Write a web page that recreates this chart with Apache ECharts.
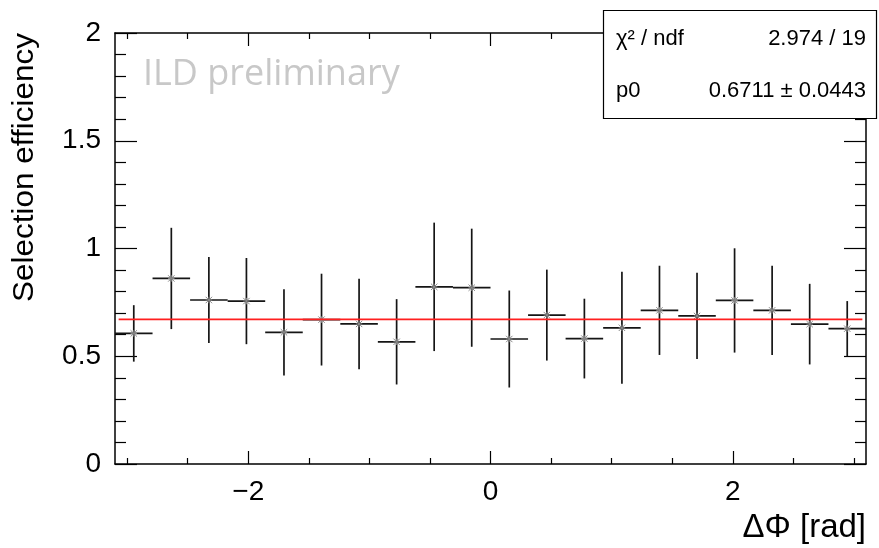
<!DOCTYPE html>
<html>
<head>
<meta charset="utf-8">
<script src="https://cdn.jsdelivr.net/npm/echarts@6/dist/echarts.min.js"></script>
<style>
  html, body { margin: 0; padding: 0; background: #fff; }
  #chart { width: 879px; height: 548px; }
</style>
</head>
<body>
<div id="chart"></div>
<script>
// Efficiency per ΔΦ bin (20 bins, width 0.31 rad, range -3.1 .. 3.1)
const binCenters = [-2.945, -2.635, -2.325, -2.015, -1.705, -1.395, -1.085, -0.775, -0.465, -0.155,
                    0.155, 0.465, 0.775, 1.085, 1.395, 1.705, 2.015, 2.325, 2.635, 2.945];
const binWidth = 0.31;
const efficiency = [0.606, 0.861, 0.761, 0.756, 0.611, 0.670, 0.650, 0.567, 0.822, 0.818,
                    0.580, 0.691, 0.582, 0.632, 0.713, 0.687, 0.759, 0.713, 0.649, 0.628];
const efficiencyErr = [0.131, 0.235, 0.200, 0.200, 0.200, 0.213, 0.210, 0.198, 0.298, 0.274,
                       0.225, 0.211, 0.185, 0.260, 0.207, 0.200, 0.242, 0.207, 0.187, 0.128];

// Constant fit p0
const fitP0 = 0.6711;
const fitRange = [-3.07, 3.07];

// Axis ticks
const xRange = [-3.1, 3.1];
const xMajorTicks = [-2, 0, 2];
const xMinorTicks = [-3, -2.5, -1.5, -1, -0.5, 0.5, 1, 1.5, 2.5, 3];
const yRange = [0, 2];
const yStep = 0.5;

const statsRows = [
  ['\u03C7\u00B2 / ndf', '2.974 / 19'],
  ['p0', '0.6711 \u00B1 0.0443']
];

const FONT = '"Liberation Sans", Arial, Helvetica, sans-serif';
const chart = echarts.init(document.getElementById('chart'));

const fmtMinus = v => (v < 0 ? '\u2212' + Math.abs(v) : String(v));

function xAxisDef(position, ticks, len, showLabels, showLine) {
  return {
    type: 'value', position: position, min: xRange[0], max: xRange[1],
    axisLine: { show: showLine, onZero: false, lineStyle: { color: '#000', width: 1.5 } },
    axisTick: { show: true, inside: true, length: len, customValues: ticks,
                lineStyle: { color: '#000', width: 1.2 } },
    axisLabel: { show: showLabels, customValues: ticks, formatter: fmtMinus, margin: 14,
                 color: '#000', fontSize: 28, fontFamily: FONT },
    splitLine: { show: false }
  };
}

function yAxisDef(position, showLabels) {
  return {
    type: 'value', position: position, min: yRange[0], max: yRange[1], interval: yStep,
    axisLine: { show: true, onZero: false, lineStyle: { color: '#000', width: 1.5 } },
    axisTick: { show: true, inside: true, length: 22, lineStyle: { color: '#000', width: 1.2 } },
    minorTick: { show: true, splitNumber: 5, length: 11, lineStyle: { color: '#000', width: 1.2 } },
    axisLabel: { show: showLabels, margin: 14, padding: [6, 0, 0, 0],
                 color: '#000', fontSize: 28, fontFamily: FONT },
    splitLine: { show: false }, minorSplitLine: { show: false }
  };
}

// Histogram points with x-bin width and y error bars
function renderBin(params, api) {
  const xc = api.value(0), v = api.value(1), e = api.value(2);
  const half = binWidth / 2;
  const p = api.coord([xc, v]);
  const l = api.coord([xc - half, v]);
  const r = api.coord([xc + half, v]);
  const t = api.coord([xc, v + e]);
  const b = api.coord([xc, v - e]);
  const barStyle = { stroke: '#151515', lineWidth: 1.7 };
  const mk = { stroke: '#8a8a8a', lineWidth: 1 };
  const s = 3.2;
  return {
    type: 'group',
    children: [
      { type: 'line', shape: { x1: l[0], y1: l[1], x2: r[0], y2: r[1] }, style: barStyle },
      { type: 'line', shape: { x1: t[0], y1: t[1], x2: b[0], y2: b[1] }, style: barStyle },
      { type: 'line', shape: { x1: p[0] - s, y1: p[1] - s, x2: p[0] + s, y2: p[1] + s }, style: mk },
      { type: 'line', shape: { x1: p[0] - s, y1: p[1] + s, x2: p[0] + s, y2: p[1] - s }, style: mk },
      { type: 'line', shape: { x1: p[0] - s, y1: p[1], x2: p[0] + s, y2: p[1] }, style: mk },
      { type: 'line', shape: { x1: p[0], y1: p[1] - s, x2: p[0], y2: p[1] + s }, style: mk }
    ]
  };
}

const option = {
  animation: false,
  backgroundColor: '#fff',
  grid: { left: 115, right: 13, top: 33, bottom: 84, containLabel: false },
  xAxis: [
    xAxisDef('bottom', xMajorTicks, 13, true, true),
    xAxisDef('bottom', xMinorTicks, 6, false, false),
    xAxisDef('top', xMajorTicks, 13, false, true),
    xAxisDef('top', xMinorTicks, 6, false, false)
  ],
  yAxis: [yAxisDef('left', true), yAxisDef('right', false)],
  series: [
    {
      type: 'custom',
      xAxisIndex: 0, yAxisIndex: 0,
      renderItem: renderBin,
      encode: { x: 0, y: 1 },
      data: binCenters.map((c, i) => [c, efficiency[i], efficiencyErr[i]]),
      z: 2
    },
    {
      type: 'line',
      xAxisIndex: 0, yAxisIndex: 0,
      data: fitRange.map(x => [x, fitP0]),
      symbol: 'none',
      lineStyle: { color: '#ff1f1f', width: 1.6 },
      z: 3
    }
  ],
  graphic: [
    {
      type: 'text', left: 143, top: 57, z: 1,
      style: { text: 'ILD preliminary', fill: '#c8c8c8', font: '36px "Open Sans", Lato, sans-serif' }
    },
    {
      type: 'text', x: 25, y: 33, rotation: Math.PI / 2, scaleX: 1.05, z: 5,
      style: { text: 'Selection efficiency', fill: '#000', font: '30px ' + FONT,
               align: 'right', verticalAlign: 'middle' }
    },
    {
      type: 'text', x: 866, y: 528, z: 5,
      style: { text: '\u0394\u03A6 [rad]', fill: '#000', font: '33px ' + FONT,
               align: 'right', verticalAlign: 'middle' }
    },
    {
      type: 'group', z: 100,
      children: [
        { type: 'rect', shape: { x: 603.5, y: 10.5, width: 273, height: 108 },
          style: { fill: '#fff', stroke: '#000', lineWidth: 1.2 }, z: 100 },
        { type: 'text', x: 616, y: 39, z: 101,
          style: { text: statsRows[0][0], fill: '#000', font: '22px ' + FONT, verticalAlign: 'middle' } },
        { type: 'text', x: 866, y: 39, z: 101,
          style: { text: statsRows[0][1], fill: '#000', font: '22px ' + FONT, align: 'right', verticalAlign: 'middle' } },
        { type: 'text', x: 616, y: 91, z: 101,
          style: { text: statsRows[1][0], fill: '#000', font: '22px ' + FONT, verticalAlign: 'middle' } },
        { type: 'text', x: 866, y: 91, z: 101,
          style: { text: statsRows[1][1], fill: '#000', font: '22px ' + FONT, align: 'right', verticalAlign: 'middle' } }
      ]
    }
  ]
};

chart.setOption(option);
</script>
</body>
</html>
